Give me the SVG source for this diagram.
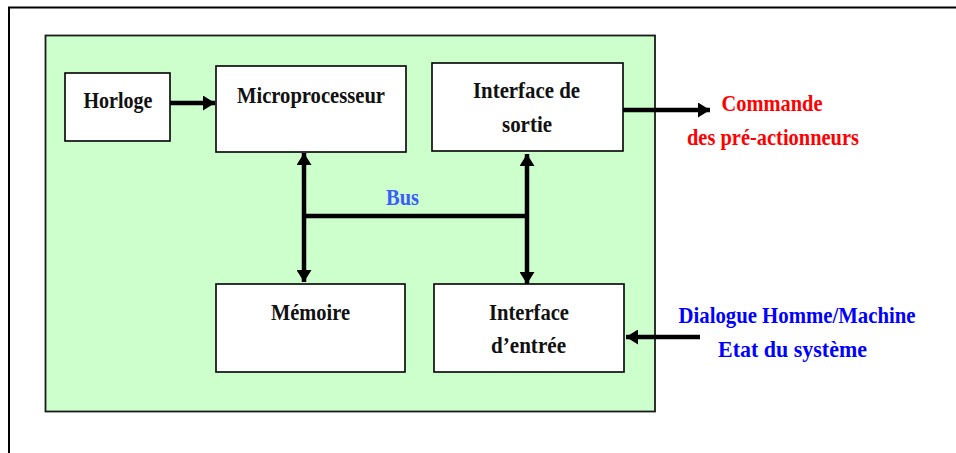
<svg xmlns="http://www.w3.org/2000/svg" width="956" height="453" viewBox="0 0 956 453">
  <style>
    .box { fill: #ffffff; stroke: #000000; stroke-width: 1.6; }
    .lbl { font-family: "Liberation Serif", "Times New Roman", serif; font-weight: bold; font-size: 24px; text-anchor: middle; fill: #111111; }
    .red { fill: #ff0000; }
    .blue { fill: #0000ff; }
    .bus { fill: #3b5cff; }
    .wire { stroke: #000000; stroke-width: 4.5; fill: none; }
  </style>
  <defs>
    <marker id="head" markerUnits="userSpaceOnUse" markerWidth="13" markerHeight="15" refX="12" refY="7.5" orient="auto-start-reverse" viewBox="0 0 13 15">
      <path d="M0,0 L12,7.5 L0,15 z" fill="#000000"/>
    </marker>
  </defs>

  <rect width="956" height="453" fill="#ffffff"/>
  <!-- page frame -->
  <path d="M9,454 V7.5 H957" fill="none" stroke="#000000" stroke-width="2"/>

  <!-- board -->
  <rect id="board" x="45.5" y="35.5" width="609.5" height="376" fill="#ccffcc" stroke="#1a1a1a" stroke-width="1.8"/>

  <g id="connectors">
    <line class="wire" x1="170" y1="103" x2="215" y2="103" marker-end="url(#head)"/>
    <line class="wire" x1="304" y1="153" x2="304" y2="282" marker-start="url(#head)" marker-end="url(#head)"/>
    <line class="wire" x1="527" y1="154" x2="527" y2="284" marker-start="url(#head)" marker-end="url(#head)"/>
    <line class="wire" x1="302" y1="216" x2="529" y2="216"/>
    <line class="wire" x1="623" y1="110" x2="710" y2="110" marker-end="url(#head)"/>
    <line class="wire" x1="700" y1="337" x2="626" y2="337" marker-end="url(#head)"/>
  </g>

  <g id="horloge">
    <rect class="box" x="65" y="73" width="105" height="68"/>
    <text class="lbl" x="118" y="108" textLength="69" lengthAdjust="spacingAndGlyphs">Horloge</text>
  </g>

  <g id="microprocesseur">
    <rect class="box" x="216" y="66" width="190" height="86"/>
    <text class="lbl" x="311" y="103" textLength="148" lengthAdjust="spacingAndGlyphs">Microprocesseur</text>
  </g>

  <g id="interface-sortie">
    <rect class="box" x="432" y="63" width="191" height="88"/>
    <text class="lbl" x="526.5" y="98" textLength="107" lengthAdjust="spacingAndGlyphs">Interface de</text>
    <text class="lbl" x="527" y="132" textLength="50" lengthAdjust="spacingAndGlyphs">sortie</text>
  </g>

  <g id="memoire">
    <rect class="box" x="216" y="284" width="189" height="88"/>
    <text class="lbl" x="310.5" y="320" textLength="79" lengthAdjust="spacingAndGlyphs">Mémoire</text>
  </g>

  <g id="interface-entree">
    <rect class="box" x="434" y="284" width="190" height="88"/>
    <text class="lbl" x="529" y="320" textLength="80" lengthAdjust="spacingAndGlyphs">Interface</text>
    <text class="lbl" x="528.5" y="353" textLength="75" lengthAdjust="spacingAndGlyphs">d’entrée</text>
  </g>

  <g id="bus-label">
    <text class="lbl bus" x="402.5" y="205" textLength="33" lengthAdjust="spacingAndGlyphs">Bus</text>
  </g>

  <g id="sortie-commande">
    <text class="lbl red" x="772" y="111" textLength="101" lengthAdjust="spacingAndGlyphs">Commande</text>
    <text class="lbl red" x="773" y="145" textLength="172" lengthAdjust="spacingAndGlyphs">des pré-actionneurs</text>
  </g>

  <g id="entree-dialogue">
    <text class="lbl blue" x="797" y="323" textLength="237" lengthAdjust="spacingAndGlyphs">Dialogue Homme/Machine</text>
    <text class="lbl blue" x="792.5" y="357" textLength="149" lengthAdjust="spacingAndGlyphs">Etat du système</text>
  </g>
</svg>
